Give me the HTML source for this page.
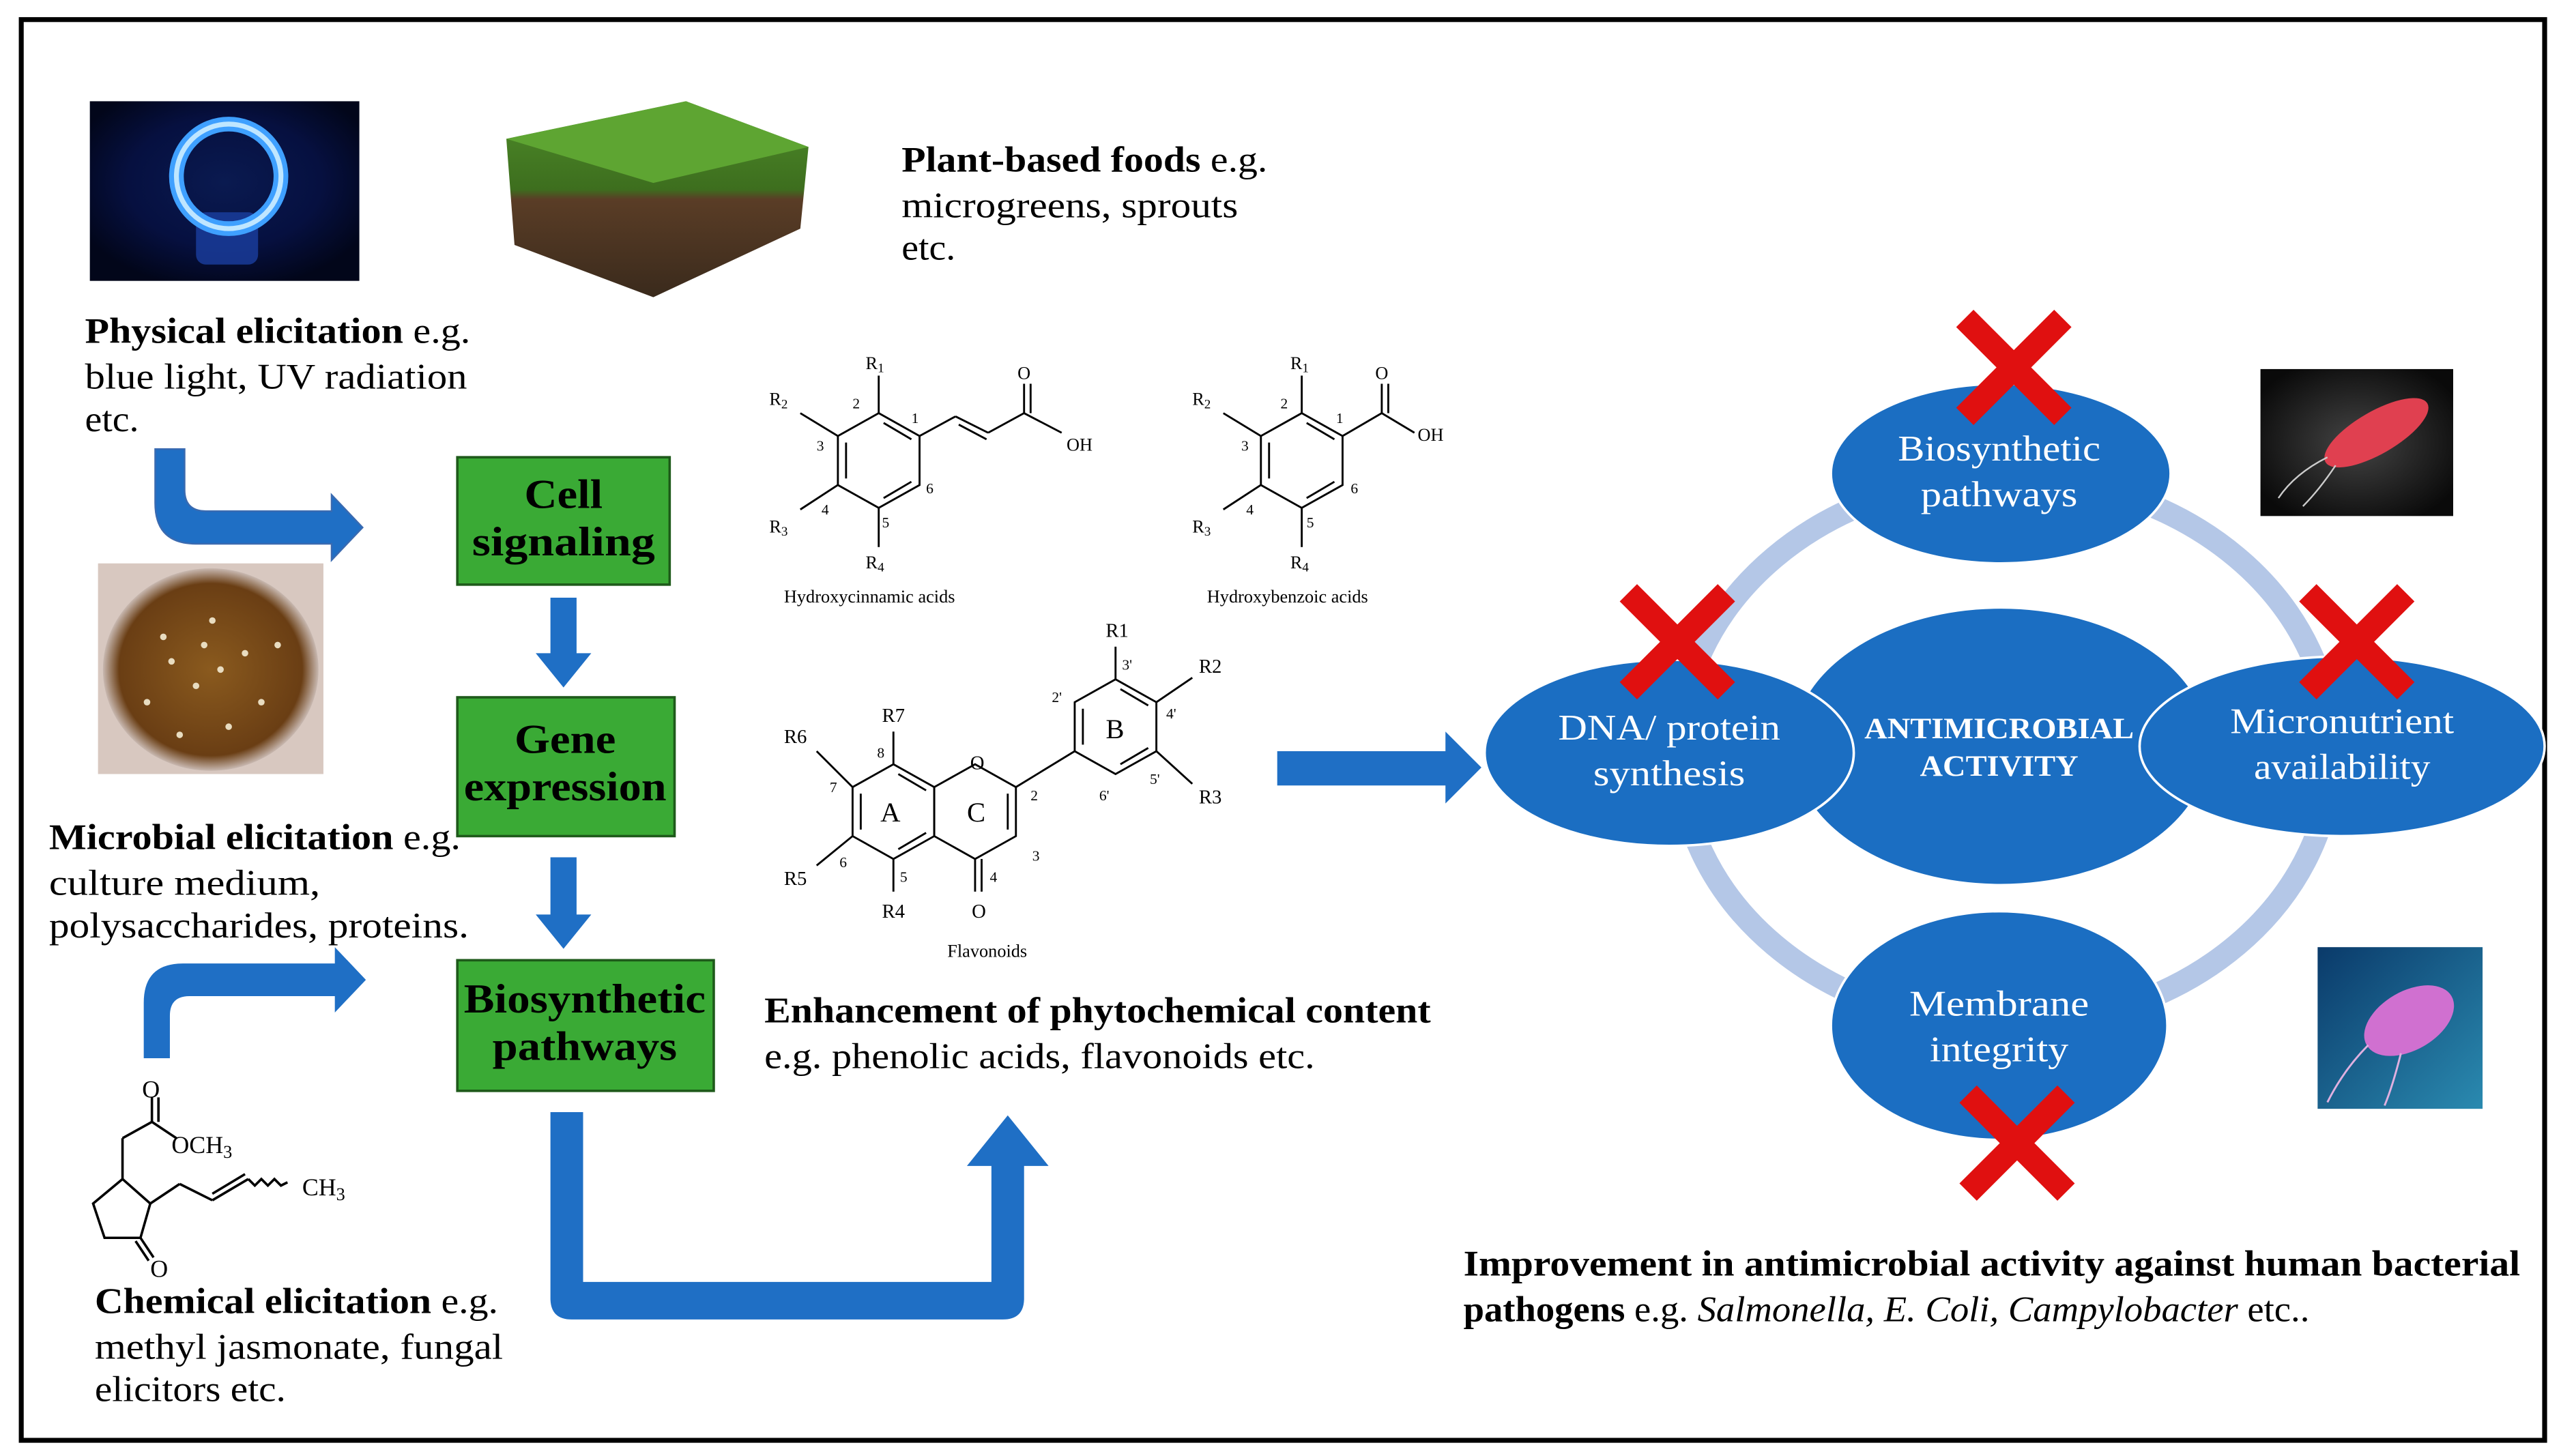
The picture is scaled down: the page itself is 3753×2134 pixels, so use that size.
<!DOCTYPE html>
<html><head><meta charset="utf-8"><style>
html,body{margin:0;padding:0;background:#fff}
svg{display:block}
text{font-family:"Liberation Serif",serif}
</style></head><body>
<svg width="3753" height="2134" viewBox="0 0 1568 891.6" xmlns="http://www.w3.org/2000/svg">
<defs>
<radialGradient id="blue" cx="50%" cy="45%" r="60%"><stop offset="0" stop-color="#0a1a50"/><stop offset="0.6" stop-color="#061040"/><stop offset="1" stop-color="#02061a"/></radialGradient>
<radialGradient id="petri" cx="50%" cy="50%" r="50%"><stop offset="0" stop-color="#8a5a1e"/><stop offset="0.85" stop-color="#6a3e14"/><stop offset="1" stop-color="#c8b8b0"/></radialGradient>
<linearGradient id="soil" x1="0" y1="0" x2="0" y2="1"><stop offset="0" stop-color="#4f8d2a"/><stop offset="0.45" stop-color="#3d6e1e"/><stop offset="0.5" stop-color="#5a3d26"/><stop offset="1" stop-color="#3a2a1c"/></linearGradient>
<radialGradient id="bac1" cx="50%" cy="50%" r="60%"><stop offset="0" stop-color="#444"/><stop offset="1" stop-color="#0a0a0a"/></radialGradient>
<linearGradient id="bac2" x1="0" y1="0" x2="1" y2="1"><stop offset="0" stop-color="#0a3a6a"/><stop offset="1" stop-color="#2a8ab0"/></linearGradient>
</defs>
<rect x="13" y="12" width="1545" height="870" fill="#fff" stroke="#000" stroke-width="3"/>

<rect x="55" y="62" width="165" height="110" fill="url(#blue)"/>
<rect x="120" y="130" width="38" height="32" rx="6" fill="#1a3fa0" opacity="0.8"/>
<circle cx="140" cy="108" r="32" fill="none" stroke="#3fa0ff" stroke-width="9"/>
<circle cx="140" cy="108" r="32" fill="none" stroke="#bfe6ff" stroke-width="3"/>

<polygon points="310,85 420,62 495,90 490,140 400,182 315,150" fill="url(#soil)"/>
<polygon points="310,85 420,62 495,90 400,112" fill="#5ea532"/>

<g font-size="22">
<text x="552" y="105" textLength="224" lengthAdjust="spacingAndGlyphs"><tspan font-weight="bold">Plant-based foods</tspan> e.g.</text>
<text x="552" y="133" textLength="206" lengthAdjust="spacingAndGlyphs">microgreens, sprouts</text>
<text x="552" y="159" textLength="33" lengthAdjust="spacingAndGlyphs">etc.</text>
<text x="52" y="210" textLength="236" lengthAdjust="spacingAndGlyphs"><tspan font-weight="bold">Physical elicitation</tspan> e.g.</text>
<text x="52" y="238" textLength="234" lengthAdjust="spacingAndGlyphs">blue light, UV radiation</text>
<text x="52" y="264" textLength="33" lengthAdjust="spacingAndGlyphs">etc.</text>
<text x="30" y="520" textLength="252" lengthAdjust="spacingAndGlyphs"><tspan font-weight="bold">Microbial elicitation</tspan> e.g.</text>
<text x="30" y="548" textLength="166" lengthAdjust="spacingAndGlyphs">culture medium,</text>
<text x="30" y="574" textLength="257" lengthAdjust="spacingAndGlyphs">polysaccharides, proteins.</text>
<text x="58" y="804" textLength="247" lengthAdjust="spacingAndGlyphs"><tspan font-weight="bold">Chemical elicitation</tspan> e.g.</text>
<text x="58" y="832" textLength="250" lengthAdjust="spacingAndGlyphs">methyl jasmonate, fungal</text>
<text x="58" y="858" textLength="117" lengthAdjust="spacingAndGlyphs">elicitors etc.</text>
<text x="468" y="626" font-weight="bold" textLength="408" lengthAdjust="spacingAndGlyphs">Enhancement of phytochemical content</text>
<text x="468" y="654" textLength="337" lengthAdjust="spacingAndGlyphs">e.g. phenolic acids, flavonoids etc.</text>
<text x="896" y="781" font-weight="bold" textLength="647" lengthAdjust="spacingAndGlyphs">Improvement in antimicrobial activity against human bacterial</text>
<text x="896" y="809" textLength="518" lengthAdjust="spacingAndGlyphs"><tspan font-weight="bold">pathogens</tspan> e.g. <tspan font-style="italic">Salmonella, E. Coli, Campylobacter</tspan> etc..</text>
</g>

<!-- bent arrows -->
<path d="M95,275 L113,275 L113,300 Q113,313 126,313 L203,313 L203,303 L222,323 L203,343 L203,333 L120,333 Q95,333 95,308 Z" fill="#1f6fc5" stroke="#3a6ab0" stroke-width="1"/>
<path d="M88,648 L104,648 L104,622 Q104,610 116,610 L205,610 L205,620 L224,600 L205,580 L205,590 L112,590 Q88,590 88,614 Z" fill="#1f6fc5"/>

<rect x="60" y="345" width="138" height="129" fill="#d8c8c0"/>
<ellipse cx="129" cy="410" rx="66" ry="62" fill="url(#petri)"/>
<g fill="#e8dcc0">
<circle cx="100" cy="390" r="2"/><circle cx="130" cy="380" r="2"/><circle cx="150" cy="400" r="2"/><circle cx="120" cy="420" r="2"/><circle cx="90" cy="430" r="2"/><circle cx="160" cy="430" r="2"/><circle cx="140" cy="445" r="2"/><circle cx="110" cy="450" r="2"/><circle cx="170" cy="395" r="2"/><circle cx="105" cy="405" r="2"/><circle cx="135" cy="410" r="2"/><circle cx="125" cy="395" r="2"/>
</g>

<g stroke="#000" stroke-width="1.5" fill="none">
<polygon points="75,722 92,737 86,758 64,758 57,737"/>
<line x1="75" y1="722" x2="75" y2="697"/><line x1="75" y1="697" x2="93" y2="687"/>
<line x1="93" y1="687" x2="93" y2="672"/><line x1="97" y1="687" x2="97" y2="672"/>
<line x1="93" y1="687" x2="108" y2="697"/>
<line x1="92" y1="737" x2="110" y2="725"/><line x1="110" y1="725" x2="130" y2="735"/>
<line x1="130" y1="735" x2="152" y2="722"/><line x1="130" y1="731" x2="150" y2="719"/>
<path d="M152,722 l4,4 l4,-4 l4,4 l4,-4 l4,4 l4,-2"/>
<line x1="86" y1="758" x2="94" y2="770"/><line x1="83" y1="760" x2="91" y2="772"/>
</g>
<text x="87" y="672" font-size="15" font-family="Liberation Sans">O</text>
<text x="105" y="706" font-size="15" font-family="Liberation Sans">OCH<tspan font-size="11" dy="3">3</tspan></text>
<text x="185" y="732" font-size="15" font-family="Liberation Sans">CH<tspan font-size="11" dy="3">3</tspan></text>
<text x="92" y="782" font-size="15" font-family="Liberation Sans">O</text>

<!-- green boxes -->
<g font-size="25" font-weight="bold" text-anchor="middle">
<rect x="280" y="280" width="130" height="78" fill="#3aaa35" stroke="#1e5a1a" stroke-width="1.5"/>
<text x="345" y="311" textLength="48" lengthAdjust="spacingAndGlyphs">Cell</text>
<text x="345" y="340" textLength="112" lengthAdjust="spacingAndGlyphs">signaling</text>
<rect x="280" y="427" width="133" height="85" fill="#3aaa35" stroke="#1e5a1a" stroke-width="1.5"/>
<text x="346" y="461" textLength="62" lengthAdjust="spacingAndGlyphs">Gene</text>
<text x="346" y="490" textLength="124" lengthAdjust="spacingAndGlyphs">expression</text>
<rect x="280" y="588" width="157" height="80" fill="#3aaa35" stroke="#1e5a1a" stroke-width="1.5"/>
<text x="358" y="620" textLength="148" lengthAdjust="spacingAndGlyphs">Biosynthetic</text>
<text x="358" y="649" textLength="113" lengthAdjust="spacingAndGlyphs">pathways</text>
</g>

<path d="M337,366 L353,366 L353,400 L362,400 L345,421 L328,400 L337,400 Z" fill="#1f6fc5"/>
<path d="M337,525 L353,525 L353,560 L362,560 L345,581 L328,560 L337,560 Z" fill="#1f6fc5"/>

<path d="M337,681 L357,681 L357,785 L607,785 L607,714 L592,714 L617,683 L642,714 L627,714 L627,795 Q627,808 614,808 L350,808 Q337,808 337,795 Z" fill="#1f6fc5"/>

<!-- hydroxycinnamic -->
<g stroke="#000" stroke-width="1.2" fill="none">
<polygon points="538,253 563,267 563,297 538,311 513,297 513,267"/>
<line x1="541" y1="259" x2="558" y2="269"/><line x1="558" y1="295" x2="541" y2="305"/><line x1="518" y1="293" x2="518" y2="271"/>
<line x1="538" y1="253" x2="538" y2="230"/><line x1="513" y1="267" x2="490" y2="253"/><line x1="513" y1="297" x2="490" y2="312"/><line x1="538" y1="311" x2="538" y2="335"/>
<line x1="563" y1="267" x2="585" y2="255"/><line x1="585" y1="255" x2="605" y2="265"/><line x1="587" y1="260" x2="604" y2="269"/><line x1="605" y1="265" x2="627" y2="253"/><line x1="627" y1="253" x2="627" y2="235"/><line x1="631" y1="253" x2="631" y2="235"/><line x1="627" y1="253" x2="650" y2="265"/>
</g>
<g font-size="11"><text x="530" y="226">R<tspan font-size="8" dy="2">1</tspan></text><text x="471" y="248">R<tspan font-size="8" dy="2">2</tspan></text><text x="471" y="326">R<tspan font-size="8" dy="2">3</tspan></text><text x="530" y="348">R<tspan font-size="8" dy="2">4</tspan></text><text x="623" y="232">O</text><text x="653" y="276">OH</text>
<text x="480" y="369">Hydroxycinnamic acids</text>
<text x="522" y="250" font-size="9">2</text><text x="558" y="259" font-size="9">1</text><text x="500" y="276" font-size="9">3</text><text x="503" y="315" font-size="9">4</text><text x="540" y="323" font-size="9">5</text><text x="567" y="302" font-size="9">6</text></g>

<!-- hydroxybenzoic -->
<g stroke="#000" stroke-width="1.2" fill="none">
<polygon points="797,253 822,267 822,297 797,311 772,297 772,267"/>
<line x1="800" y1="259" x2="817" y2="269"/><line x1="817" y1="295" x2="800" y2="305"/><line x1="777" y1="293" x2="777" y2="271"/>
<line x1="797" y1="253" x2="797" y2="230"/><line x1="772" y1="267" x2="749" y2="253"/><line x1="772" y1="297" x2="749" y2="312"/><line x1="797" y1="311" x2="797" y2="335"/>
<line x1="822" y1="267" x2="846" y2="253"/><line x1="846" y1="253" x2="846" y2="235"/><line x1="850" y1="253" x2="850" y2="235"/><line x1="846" y1="253" x2="866" y2="265"/>
</g>
<g font-size="11"><text x="790" y="226">R<tspan font-size="8" dy="2">1</tspan></text><text x="730" y="248">R<tspan font-size="8" dy="2">2</tspan></text><text x="730" y="326">R<tspan font-size="8" dy="2">3</tspan></text><text x="790" y="348">R<tspan font-size="8" dy="2">4</tspan></text><text x="842" y="232">O</text><text x="868" y="270">OH</text>
<text x="739" y="369">Hydroxybenzoic acids</text>
<text x="784" y="250" font-size="9">2</text><text x="818" y="259" font-size="9">1</text><text x="760" y="276" font-size="9">3</text><text x="763" y="315" font-size="9">4</text><text x="800" y="323" font-size="9">5</text><text x="827" y="302" font-size="9">6</text></g>

<!-- flavonoids -->
<g stroke="#000" stroke-width="1.2" fill="none">
<polygon points="547,468 572,482 572,512 547,526 522,512 522,482"/>
<line x1="550" y1="474" x2="567" y2="484"/><line x1="567" y1="510" x2="550" y2="520"/><line x1="527" y1="508" x2="527" y2="486"/>
<polygon points="572,482 597,468 622,482 622,512 597,526 572,512"/>
<line x1="617" y1="486" x2="617" y2="508"/>
<polygon points="683,416 708,430 708,460 683,474 658,460 658,430"/>
<line x1="686" y1="422" x2="703" y2="432"/><line x1="703" y1="458" x2="686" y2="468"/><line x1="663" y1="456" x2="663" y2="434"/>
<line x1="622" y1="482" x2="658" y2="460"/>
<line x1="547" y1="468" x2="547" y2="448"/><line x1="522" y1="482" x2="500" y2="460"/><line x1="522" y1="512" x2="500" y2="530"/><line x1="547" y1="526" x2="547" y2="546"/>
<line x1="597" y1="526" x2="597" y2="546"/><line x1="601" y1="526" x2="601" y2="546"/>
<line x1="683" y1="416" x2="683" y2="396"/><line x1="708" y1="430" x2="730" y2="415"/><line x1="708" y1="460" x2="730" y2="480"/>
</g>
<g font-size="12"><text x="677" y="390">R1</text><text x="734" y="412">R2</text><text x="734" y="492">R3</text><text x="540" y="562">R4</text><text x="480" y="542">R5</text><text x="480" y="455">R6</text><text x="540" y="442">R7</text><text x="595" y="562">O</text><text x="594" y="471">O</text>
<text x="539" y="503" font-size="17">A</text><text x="592" y="503" font-size="17">C</text><text x="677" y="452" font-size="17">B</text>
<g font-size="9"><text x="537" y="464">8</text><text x="508" y="485">7</text><text x="514" y="531">6</text><text x="551" y="540">5</text><text x="606" y="540">4</text><text x="632" y="527">3</text><text x="631" y="490">2</text><text x="644" y="430">2'</text><text x="687" y="410">3'</text><text x="714" y="440">4'</text><text x="704" y="480">5'</text><text x="673" y="490">6'</text></g>
<text x="580" y="586" font-size="11">Flavonoids</text></g>

<path d="M782,460 L885,460 L885,448 L907,470 L885,492 L885,481 L782,481 Z" fill="#1f6fc5"/>

<ellipse cx="1228" cy="460" rx="200" ry="168" fill="none" stroke="#b4c7e7" stroke-width="14"/>
<g fill="#1b6ec2" stroke="#fff" stroke-width="1.5">
<ellipse cx="1225" cy="457" rx="128" ry="85"/>
<ellipse cx="1225" cy="290" rx="104" ry="55"/>
<ellipse cx="1022" cy="461" rx="113" ry="57"/>
<ellipse cx="1434" cy="457" rx="124" ry="55"/>
<ellipse cx="1224" cy="628" rx="103" ry="70"/>
</g>
<g fill="#fff" font-size="22" text-anchor="middle">
<text x="1224" y="282" textLength="124" lengthAdjust="spacingAndGlyphs">Biosynthetic</text><text x="1224" y="310" textLength="96" lengthAdjust="spacingAndGlyphs">pathways</text>
<text x="1022" y="453" textLength="136" lengthAdjust="spacingAndGlyphs">DNA/ protein</text><text x="1022" y="481" textLength="93" lengthAdjust="spacingAndGlyphs">synthesis</text>
<text x="1434" y="449" textLength="137" lengthAdjust="spacingAndGlyphs">Micronutrient</text><text x="1434" y="477" textLength="108" lengthAdjust="spacingAndGlyphs">availability</text>
<text x="1224" y="622" textLength="110" lengthAdjust="spacingAndGlyphs">Membrane</text><text x="1224" y="650" textLength="85" lengthAdjust="spacingAndGlyphs">integrity</text>
<text x="1224" y="452" font-size="18" font-weight="bold" textLength="165" lengthAdjust="spacingAndGlyphs">ANTIMICROBIAL</text><text x="1224" y="475" font-size="18" font-weight="bold" textLength="97" lengthAdjust="spacingAndGlyphs">ACTIVITY</text>
</g>

<g stroke="#e01010" stroke-width="15" stroke-linecap="butt">
<path d="M1203,195 L1263,255 M1263,195 L1203,255"/>
<path d="M997,363 L1057,423 M1057,363 L997,423"/>
<path d="M1413,363 L1473,423 M1473,363 L1413,423"/>
<path d="M1205,670 L1265,730 M1265,670 L1205,730"/>
</g>

<rect x="1384" y="226" width="118" height="90" fill="url(#bac1)"/>
<ellipse cx="1455" cy="265" rx="36" ry="13" transform="rotate(-30 1455 265)" fill="#e04050"/>
<path d="M1425,280 q-20,10 -30,25 M1430,285 q-10,15 -20,25" stroke="#ccc" stroke-width="1" fill="none"/>
<rect x="1419" y="580" width="101" height="99" fill="url(#bac2)"/>
<ellipse cx="1475" cy="625" rx="30" ry="18" transform="rotate(-30 1475 625)" fill="#d070d0"/>
<path d="M1450,640 q-15,15 -25,35 M1470,645 q-5,20 -10,32" stroke="#e0b0e0" stroke-width="1.2" fill="none"/>
</svg>
</body></html>
